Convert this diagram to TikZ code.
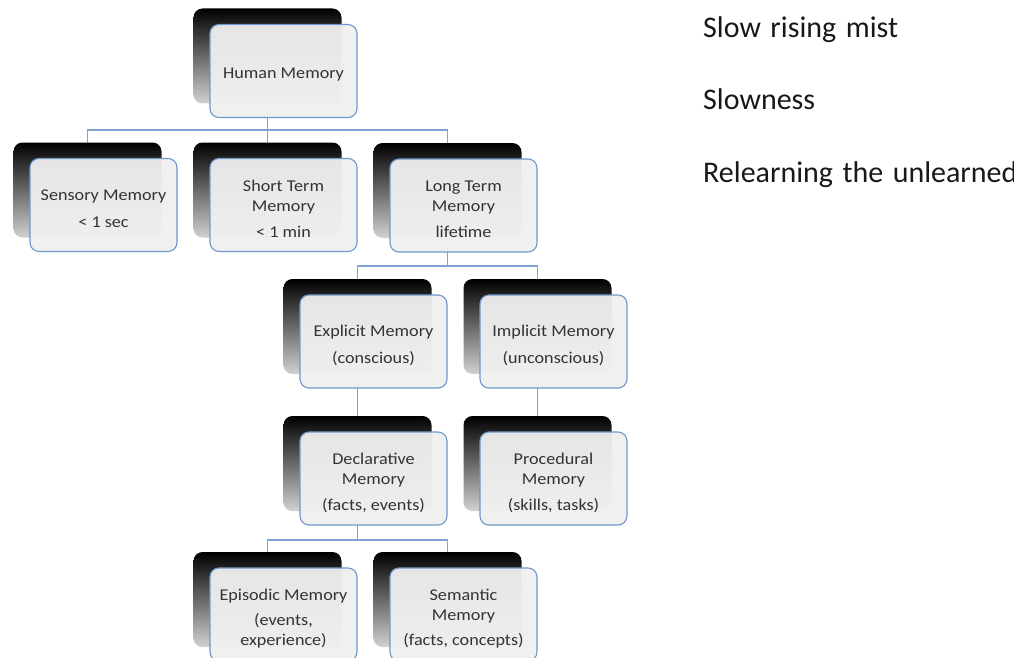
\documentclass[tikz,border=0pt]{standalone}
\usepackage{fontspec}
\setmainfont{Carlito}
\newfontfamily\boxfont{Carlito}[FakeStretch=1.1]
\newfontfamily\notefont{Carlito}[WordSpace=1.4]
\usetikzlibrary{backgrounds}

\definecolor{linkblue}{RGB}{125,163,210}
\definecolor{edgeblue}{RGB}{112,152,205}
\definecolor{cardfill}{RGB}{240,240,240}

\tikzset{
  card/.style={draw=edgeblue, line width=1.1pt, rounded corners=9pt,
    fill=cardfill, fill opacity=0.95,
    minimum width=147pt, minimum height=93pt, inner sep=0pt},
  cardtext/.style={align=center, inner sep=0pt, yshift=-4pt,
    font=\boxfont\fontsize{16.5}{20}\selectfont, text=black!80},
  backcard/.style={rounded corners=9pt, minimum width=148pt, minimum height=95pt,
    inner sep=0pt, top color=black, middle color=black!80, bottom color=black!18},
  connector/.style={draw=linkblue, line width=1.1pt},
  sidenote/.style={anchor=base west, inner sep=0pt,
    font=\notefont\fontsize{30}{34}\selectfont, text=black!90}
}

\begin{document}
\begin{tikzpicture}[x=1pt,y=-1pt]
\useasboundingbox (0,0) rectangle (1014,658);
\clip (0,0) rectangle (1014,658);

% shadow plates behind each memory card
\node[backcard] (hmb)  at (267.5,56)    {};
\node[backcard] (senb) at (87.5,190)    {};
\node[backcard] (stb)  at (267.5,190)   {};
\node[backcard] (ltb)  at (447.5,190.5) {};
\node[backcard] (exb)  at (357.5,326.5) {};
\node[backcard] (imb)  at (537.5,326.5) {};
\node[backcard] (decb) at (357.5,463.5) {};
\node[backcard] (prob) at (537.5,463.5) {};
\node[backcard] (epib) at (267.5,599.5) {};
\node[backcard] (semb) at (447.5,599.5) {};

% horizontal bus lines of the tree
\coordinate (bus1) at (0,130);
\coordinate (bus2) at (0,266);
\coordinate (bus3) at (0,540);

\begin{scope}[on background layer]
  \fill[white] (0,0) rectangle (1014,658);
  \draw[connector] (hmb.center) -- (hmb.center |- bus1)
                   (senb.center) |- (bus1 -| ltb.center) -- (ltb.center)
                   (stb.center) -- (stb.center |- bus1);
  \draw[connector] (ltb.center) -- (ltb.center |- bus2)
                   (exb.center) |- (bus2 -| imb.center) -- (imb.center);
  \draw[connector] (exb.center) -- (decb.center);
  \draw[connector] (imb.center) -- (prob.center);
  \draw[connector] (decb.center) -- (decb.center |- bus3)
                   (epib.center) |- (bus3 -| semb.center) -- (semb.center);
\end{scope}

% memory cards
\node[card] (hm)  at (283.5,71)    {};
\node[card] (sen) at (103.5,205)   {};
\node[card] (st)  at (283.5,205)   {};
\node[card] (lt)  at (463.5,205.5) {};
\node[card] (ex)  at (373.5,341.5) {};
\node[card] (im)  at (553.5,341.5) {};
\node[card] (dec) at (373.5,478.5) {};
\node[card] (pro) at (553.5,478.5) {};
\node[card] (epi) at (283.5,614.5) {};
\node[card] (sem) at (463.5,614.5) {};

% card labels
\node[cardtext] (hmt)  at (hm.center)  {Human Memory};
\node[cardtext] (sent) at (sen.center) {Sensory Memory\\[7pt]< 1 sec};
\node[cardtext] (stt)  at (st.center)  {Short Term\\Memory\\[6pt]< 1 min};
\node[cardtext] (ltt)  at (lt.center)  {Long Term\\Memory\\[6pt]lifetime};
\node[cardtext] (ext)  at (ex.center)  {Explicit Memory\\[7pt](conscious)};
\node[cardtext] (imt)  at (im.center)  {Implicit Memory\\[7pt](unconscious)};
\node[cardtext] (dect) at (dec.center) {Declarative\\Memory\\[6pt](facts, events)};
\node[cardtext] (prot) at (pro.center) {Procedural\\Memory\\[6pt](skills, tasks)};
\node[cardtext] (epit) at (epi.center) {Episodic Memory\\[5pt](events,\\experience)};
\node[cardtext] (semt) at (sem.center) {Semantic\\Memory\\[5pt](facts, concepts)};

% notes on the right
\node[sidenote] (n1) at (703,38)  {Slow rising mist};
\node[sidenote] (n2) at (703,110) {Slowness};
\node[sidenote] (n3) at (703,182) {Relearning the unlearned};
\end{tikzpicture}
\end{document}
